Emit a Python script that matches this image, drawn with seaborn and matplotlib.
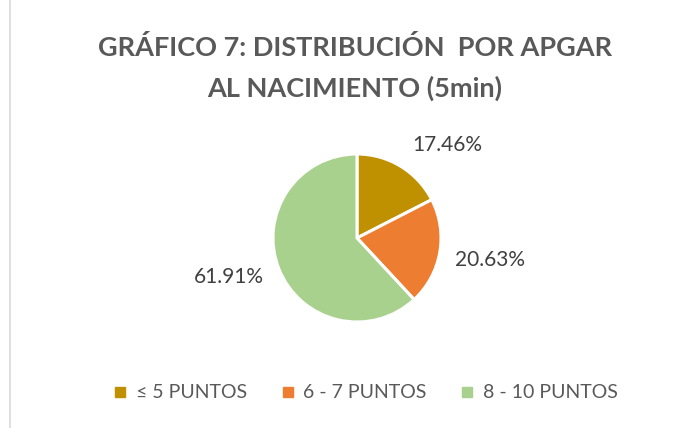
import matplotlib
matplotlib.use("Agg")
import matplotlib.pyplot as plt
from matplotlib.lines import Line2D
import seaborn as sns
import numpy as np

sns.set_theme(style="white")
plt.rcParams['font.family'] = ['Lato', 'DejaVu Sans']

# datos
categorias = ["≤ 5 PUNTOS", "6 - 7 PUNTOS", "8 - 10 PUNTOS"]
porcentajes = [17.46, 20.63, 61.91]
colores = ["#BF9000", "#ED7D31", "#A9D18E"]
titulo = "GRÁFICO 7: DISTRIBUCIÓN  POR APGAR\nAL NACIMIENTO (5min)"

W, H = 693, 428
fig = plt.figure(figsize=(W / 100, H / 100), dpi=100)

# borde izquierdo del marco
fig.add_artist(Line2D([10 / W, 10 / W], [0, 1], color="#D9D9D9", lw=1.2))

cx, cy, r = 357, 238, 84
ax = fig.add_axes([(cx - r) / W, 1 - (cy + r) / H, 2 * r / W, 2 * r / H])
wedges, _, autotexts = ax.pie(
    porcentajes, colors=colores, startangle=90, counterclock=False,
    autopct='%.2f%%', pctdistance=1.58,
    wedgeprops=dict(edgecolor="white", linewidth=2.2),
    textprops=dict(fontsize=15, color="#404040"))
ax.set_xlim(-1, 1)
ax.set_ylim(-1, 1)

# ajuste de posiciones de etiquetas (estilo Excel)
ajustes = [(1.54, 46), (1.60, -9.3), (1.6, 197)]
for t, (d, ang) in zip(autotexts, ajustes):
    a = np.deg2rad(ang)
    t.set_position((d * np.cos(a), d * np.sin(a)))

fig.text(355 / W, 1 - 68 / H, titulo, ha="center", va="center",
         fontsize=19.5, fontweight="bold", color="#595959", linespacing=1.7)

handles = [Line2D([], [], marker="s", ls="", color=c, markersize=7.5) for c in colores]
fig.legend(handles, categorias, loc="center", bbox_to_anchor=(364 / W, 1 - 393 / H),
           ncol=3, frameon=False, fontsize=14, handletextpad=0.3, handlelength=1.0,
           columnspacing=1.6, labelcolor="#595959")

fig.savefig("out.png", dpi=100, facecolor="white")
